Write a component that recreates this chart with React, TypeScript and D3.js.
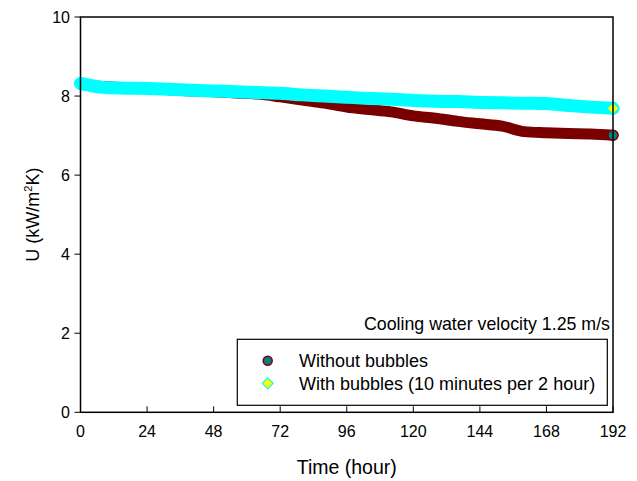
import React from "react";
import * as d3 from "d3";

const hours = [0, 8, 16, 24, 32, 40, 48, 56, 64, 72, 80, 88, 96, 104, 112, 120, 128, 136, 144, 152, 160, 168, 176, 184, 192];
const withoutBubbles = [8.30, 8.24, 8.21, 8.19, 8.16, 8.13, 8.11, 8.08, 8.05, 7.98, 7.90, 7.82, 7.72, 7.66, 7.60, 7.50, 7.44, 7.36, 7.30, 7.24, 7.10, 7.07, 7.05, 7.04, 7.01];
const withBubbles = [8.32, 8.22, 8.20, 8.19, 8.17, 8.15, 8.13, 8.11, 8.09, 8.07, 8.03, 8.00, 7.97, 7.94, 7.92, 7.89, 7.87, 7.86, 7.84, 7.83, 7.82, 7.81, 7.76, 7.72, 7.69];
const xTicks = [0, 24, 48, 72, 96, 120, 144, 168, 192];
const yTicks = [0, 2, 4, 6, 8, 10];
const seriesNames = ["Without bubbles", "With bubbles (10 minutes per 2 hour)"];
const note = "Cooling water velocity 1.25 m/s";

export default function App() {
  const W = 637, H = 481;
  const left = 80.5, right = 613, top = 17, bottom = 412.3;
  const x = d3.scaleLinear().domain([0, 192]).range([left, right]);
  const y = d3.scaleLinear().domain([0, 10]).range([bottom, top]);
  const font = "Arial, 'Liberation Sans', sans-serif";

  const line = d3.line<number>().x((_, i) => x(hours[i])).y((d) => y(d)).curve(d3.curveMonotoneX);
  const lastX = x(hours[hours.length - 1]);
  const yMar = y(withoutBubbles[withoutBubbles.length - 1]);
  const yCy = y(withBubbles[withBubbles.length - 1]);
  const diamond = (cx: number, cy: number, s: number) => `M${cx},${cy - s} L${cx + s},${cy} L${cx},${cy + s} L${cx - s},${cy} Z`;

  return (
    <svg width={W} height={H} style={{ position: "absolute", left: 0, top: 0 }} fontFamily={font}>
      <rect x={0} y={0} width={W} height={H} fill="#fff" />
      {/* series bands */}
      <path d={line(withoutBubbles) || ""} fill="none" stroke="#7a0000" strokeWidth={11} strokeLinecap="round" strokeLinejoin="round" />
      <path d={line(withBubbles) || ""} fill="none" stroke="#00ffff" strokeWidth={13} strokeLinecap="round" strokeLinejoin="round" />
      <circle cx={lastX} cy={yMar} r={5} fill="#008080" stroke="#800000" strokeWidth={1.5} />
      <path d={diamond(lastX, yCy, 6)} fill="#ffff00" stroke="#00ffff" strokeWidth={1.2} />
      {/* frame */}
      <rect x={left} y={top} width={right - left} height={bottom - top} fill="none" stroke="#000" strokeWidth={1.5} />
      {/* x ticks */}
      {xTicks.map((t) => (
        <g key={"x" + t}>
          <line x1={x(t)} x2={x(t)} y1={bottom} y2={bottom - 6} stroke="#000" strokeWidth={1} />
          <text x={x(t)} y={437} textAnchor="middle" fontSize={16}>{t}</text>
        </g>
      ))}
      {yTicks.map((t) => (
        <g key={"y" + t}>
          <line x1={left - 6} x2={left} y1={y(t)} y2={y(t)} stroke="#000" strokeWidth={1} />
          <text x={70} y={y(t) + 6} textAnchor="end" fontSize={16}>{t}</text>
        </g>
      ))}
      <text x={(left + right) / 2} y={474} textAnchor="middle" fontSize={19.5}>Time (hour)</text>
      <text transform={`translate(39,${(top + bottom) / 2}) rotate(-90)`} textAnchor="middle" fontSize={18}>
        U (kW/m<tspan dy={-7} fontSize={11}>2</tspan><tspan dy={7}>K)</tspan>
      </text>
      <text x={610} y={330} textAnchor="end" fontSize={17.8}>{note}</text>
      {/* legend */}
      <rect x={237.3} y={339.3} width={370} height={66} fill="#fff" stroke="#000" strokeWidth={1.2} />
      <circle cx={267.7} cy={360.7} r={4.5} fill="#008080" stroke="#800000" strokeWidth={1.5} />
      <text x={299} y={366.5} fontSize={18}>{seriesNames[0]}</text>
      <path d={diamond(267.7, 383.3, 5.5)} fill="#ffff00" stroke="#00ffff" strokeWidth={1.2} />
      <text x={299} y={389.5} fontSize={18}>{seriesNames[1]}</text>
    </svg>
  );
}
